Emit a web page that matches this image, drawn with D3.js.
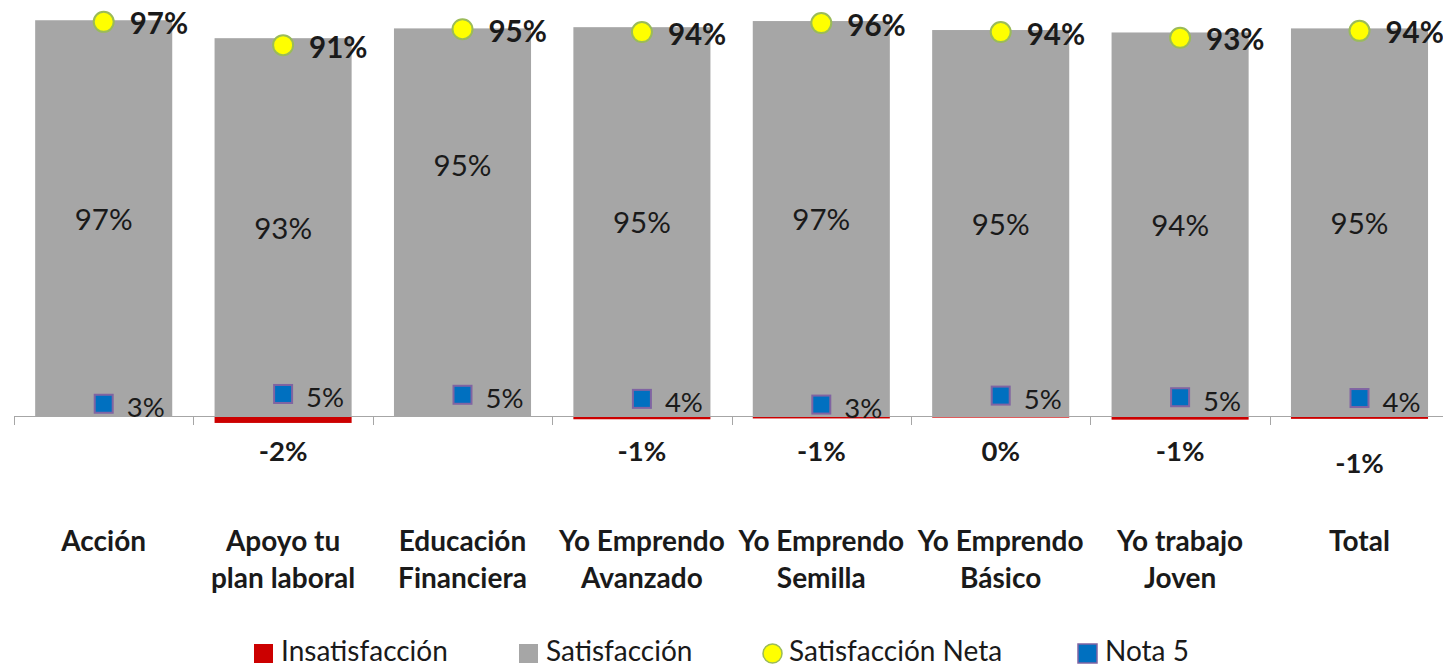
<!DOCTYPE html>
<html>
<head>
<meta charset="utf-8">
<script src="https://cdn.jsdelivr.net/npm/d3@7"></script>
<style>
  body { margin: 0; background: #fff; }
  #chart { width: 1443px; height: 667px; }
  text { font-family: Lato, "Open Sans", sans-serif; }
</style>
</head>
<body>
<div id="chart"></div>
<script>
// Satisfacción por programa (values in %)
const categories = [
    ["Acción"],
    ["Apoyo tu", "plan laboral"],
    ["Educación", "Financiera"],
    ["Yo Emprendo", "Avanzado"],
    ["Yo Emprendo", "Semilla"],
    ["Yo Emprendo", "Básico"],
    ["Yo trabajo", "Joven"],
    ["Total"]
];
const satisfaccion = [97.0, 92.6, 95.0, 95.3, 96.8, 94.6, 94.0, 95.0];
const insatisfaccion = [null, -1.7, null, -0.8, -0.6, -0.4, -0.9, -0.7];
const satisfaccionNeta = [96.6, 90.9, 94.8, 94.1, 96.3, 94.1, 92.7, 94.4];
const nota5 = [3.0, 5.4, 5.2, 4.2, 2.8, 5.0, 4.6, 4.4];
const legendLabels = ["Insatisfacción", "Satisfacción", "Satisfacción Neta", "Nota 5"];

const colors = {
    insat: "#CC0000",
    sat: "#A6A6A6",
    netFill: "#FFFF00",
    netStroke: "#9BBB59",
    notaFill: "#0070C0",
    notaStroke: "#8064A2",
    text: "#1a1a1a"
};

function renderChart() {
    d3.select("#chart").selectAll("*").remove();

    const width = 1443;
    const height = 667;

    const svg = d3.select("#chart")
        .append("svg")
        .attr("width", width)
        .attr("height", height);

    const keys = categories.map(c => c.join(" "));
    const data = keys.map((k, i) => ({
        key: k,
        lines: categories[i],
        sat: satisfaccion[i],
        insat: insatisfaccion[i],
        net: satisfaccionNeta[i],
        nota: nota5[i]
    }));

    // Scales
    const step = 179.4;
    const x = d3.scaleBand()
        .domain(keys)
        .range([14, 14 + step * keys.length])
        .paddingInner(0.236)
        .paddingOuter(0.118);

    const y = d3.scaleLinear()
        .domain([0, 100])
        .range([416, 8]);

    const cx = d => x(d.key) + x.bandwidth() / 2;

    // Satisfacción bars
    svg.append("g")
        .selectAll("rect")
        .data(data)
        .enter()
        .append("rect")
        .attr("x", d => x(d.key))
        .attr("y", d => y(d.sat))
        .attr("width", x.bandwidth())
        .attr("height", d => y(0) - y(d.sat))
        .attr("fill", colors.sat);

    // Insatisfacción bars (negative)
    svg.append("g")
        .selectAll("rect")
        .data(data.filter(d => d.insat !== null))
        .enter()
        .append("rect")
        .attr("x", d => x(d.key))
        .attr("y", y(0))
        .attr("width", x.bandwidth())
        .attr("height", d => y(d.insat) - y(0))
        .attr("fill", colors.insat);

    // Axis line and ticks between categories
    const axis = svg.append("g");
    axis.append("line")
        .attr("x1", 14).attr("x2", width)
        .attr("y1", y(0) + 0.5).attr("y2", y(0) + 0.5)
        .attr("stroke", "#A6A6A6")
        .attr("stroke-width", 1);
    const tickXs = keys.map(k => x(k) - x.step() * x.paddingInner() / 2);
    axis.selectAll("line.tick")
        .data(tickXs)
        .enter()
        .append("line")
        .attr("class", "tick")
        .attr("x1", d => Math.round(d) + 0.5).attr("x2", d => Math.round(d) + 0.5)
        .attr("y1", y(0)).attr("y2", y(0) + 9)
        .attr("stroke", "#A6A6A6");

    const fmt = v => `${Math.round(v)}%`;

    // Satisfacción labels (centered in bar)
    const satLabelDy = { "Educación Financiera": -58 };
    svg.append("g")
        .selectAll("text")
        .data(data)
        .enter()
        .append("text")
        .attr("x", cx)
        .attr("y", d => (y(d.sat) + y(0)) / 2 + (satLabelDy[d.key] || 0))
        .attr("text-anchor", "middle")
        .attr("dominant-baseline", "central")
        .attr("font-size", "29.5px")
        .attr("fill", colors.text)
        .text(d => fmt(d.sat));

    // Insatisfacción labels
    const insatLabelDy = { "Total": 12 };
    svg.append("g")
        .selectAll("text")
        .data(data.filter(d => d.insat !== null))
        .enter()
        .append("text")
        .attr("x", cx)
        .attr("y", d => y(0) + 34 + (insatLabelDy[d.key] || 0))
        .attr("text-anchor", "middle")
        .attr("dominant-baseline", "central")
        .attr("font-size", "27.5px")
        .attr("font-weight", "bold")
        .attr("fill", colors.text)
        .text(d => fmt(d.insat));

    // Nota 5 markers
    const sq = 18;
    svg.append("g")
        .selectAll("rect")
        .data(data)
        .enter()
        .append("rect")
        .attr("x", d => cx(d) - sq / 2)
        .attr("y", d => y(d.nota) - sq / 2)
        .attr("width", sq)
        .attr("height", sq)
        .attr("fill", colors.notaFill)
        .attr("stroke", colors.notaStroke)
        .attr("stroke-width", 2);

    svg.append("g")
        .selectAll("text")
        .data(data)
        .enter()
        .append("text")
        .attr("x", d => cx(d) + 23)
        .attr("y", d => y(d.nota) + 3)
        .attr("dominant-baseline", "central")
        .attr("font-size", "27.5px")
        .attr("fill", colors.text)
        .text(d => fmt(d.nota));

    // Satisfacción Neta markers
    svg.append("g")
        .selectAll("circle")
        .data(data)
        .enter()
        .append("circle")
        .attr("cx", cx)
        .attr("cy", d => y(d.net))
        .attr("r", 10)
        .attr("fill", colors.netFill)
        .attr("stroke", colors.netStroke)
        .attr("stroke-width", 2);

    svg.append("g")
        .selectAll("text")
        .data(data)
        .enter()
        .append("text")
        .attr("x", d => cx(d) + 26)
        .attr("y", d => y(d.net) + 1)
        .attr("dominant-baseline", "central")
        .attr("font-size", "29.5px")
        .attr("font-weight", "bold")
        .attr("fill", colors.text)
        .text(d => fmt(d.net));

    // Category labels
    const cat = svg.append("g")
        .selectAll("text")
        .data(data)
        .enter()
        .append("text")
        .attr("x", cx)
        .attr("y", 541)
        .attr("text-anchor", "middle")
        .attr("font-size", "28px")
        .attr("font-weight", "bold")
        .attr("fill", colors.text);
    cat.selectAll("tspan")
        .data(d => d.lines)
        .enter()
        .append("tspan")
        .attr("x", function () { return d3.select(this.parentNode).attr("x"); })
        .attr("dy", (d, i) => i === 0 ? "0.35em" : "37px")
        .text(d => d);

    // Legend
    const legendItems = [
        { label: legendLabels[0], shape: "rect", fill: colors.insat, stroke: "none", x: 254 },
        { label: legendLabels[1], shape: "rect", fill: colors.sat, stroke: "none", x: 519 },
        { label: legendLabels[2], shape: "circle", fill: colors.netFill, stroke: colors.netStroke, x: 762 },
        { label: legendLabels[3], shape: "rect", fill: colors.notaFill, stroke: colors.notaStroke, x: 1078 }
    ];
    const legend = svg.append("g");
    const ly = 653.5;
    legendItems.forEach(item => {
        const g = legend.append("g").attr("transform", `translate(${item.x},${ly})`);
        if (item.shape === "rect") {
            g.append("rect")
                .attr("x", 0).attr("y", -9.5)
                .attr("width", 19).attr("height", 19)
                .attr("fill", item.fill)
                .attr("stroke", item.stroke)
                .attr("stroke-width", item.stroke === "none" ? 0 : 1.5);
        } else {
            g.append("circle")
                .attr("cx", 10.5).attr("cy", 0)
                .attr("r", 9.5)
                .attr("fill", item.fill)
                .attr("stroke", item.stroke)
                .attr("stroke-width", 1.5);
        }
        g.append("text")
            .attr("x", 27)
            .attr("y", 7.5)
            .attr("font-size", "28px")
            .attr("fill", colors.text)
            .text(item.label);
    });
}

renderChart();
</script>
</body>
</html>
